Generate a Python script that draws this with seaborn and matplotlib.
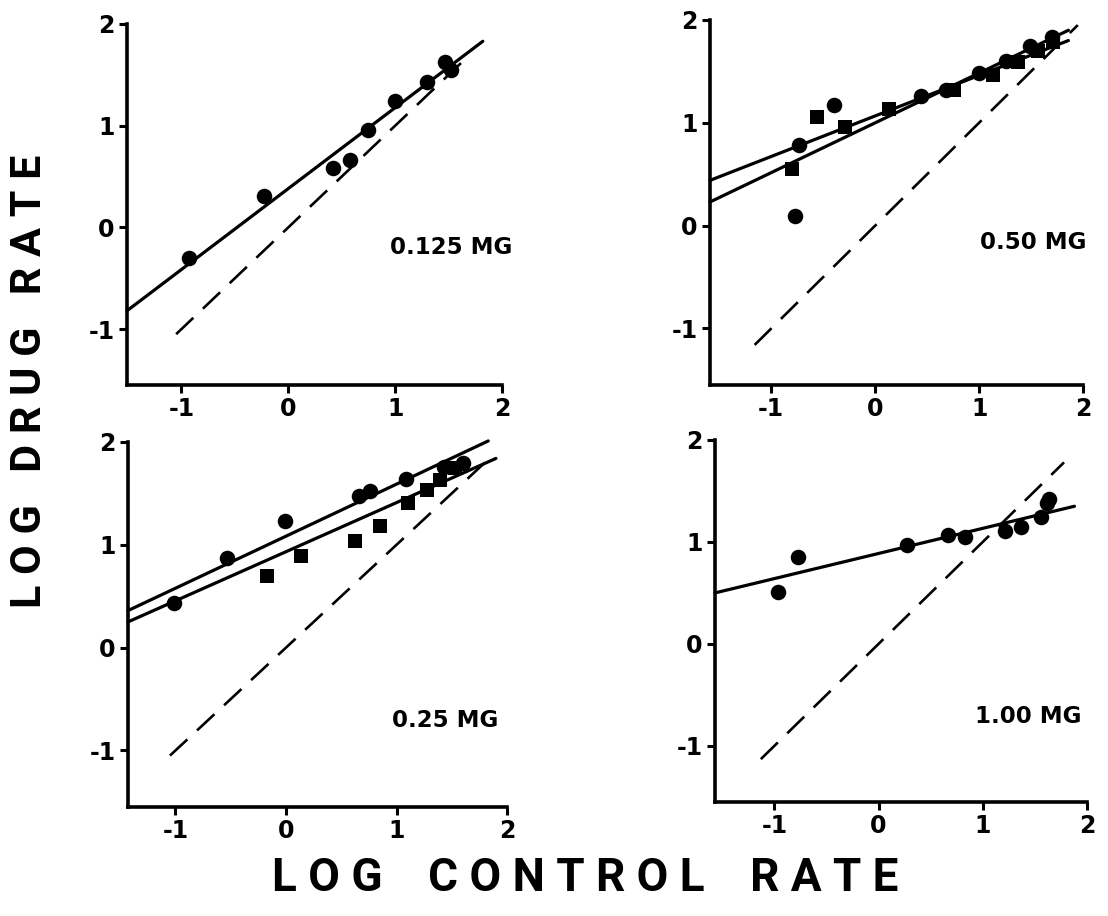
import numpy as np
import pandas as pd
import matplotlib
matplotlib.use("Agg")
import matplotlib.pyplot as plt
import seaborn as sns

# panel 0.125 MG
a_circ_x = [-0.93, -0.23, 0.42, 0.58, 0.75, 1.00, 1.30, 1.47, 1.52]
a_circ_y = [-0.30, 0.31, 0.58, 0.66, 0.96, 1.24, 1.43, 1.63, 1.55]
a_fit_x = [[-1.51, 1.82]]
a_fit_y = [[-0.82, 1.83]]
a_unity = [-1.05, 1.68]

# panel 0.50 MG
b_circ_x = [-0.73, -0.77, -0.40, 0.44, 0.68, 1.00, 1.26, 1.49, 1.70]
b_circ_y = [0.78, 0.09, 1.17, 1.26, 1.32, 1.48, 1.60, 1.75, 1.83]
b_sq_x = [-0.80, -0.56, -0.29, 0.13, 0.76, 1.13, 1.37, 1.57, 1.71]
b_sq_y = [0.55, 1.06, 0.96, 1.13, 1.32, 1.46, 1.59, 1.70, 1.79]
b_fit_x = [[-1.59, 1.86], [-1.59, 1.86]]
b_fit_y = [[0.44, 1.80], [0.23, 1.90]]
b_unity = [-1.16, 1.95]

# panel 0.25 MG
c_circ_x = [-1.01, -0.53, -0.01, 0.66, 0.76, 1.09, 1.43, 1.60]
c_circ_y = [0.43, 0.87, 1.23, 1.47, 1.52, 1.64, 1.76, 1.80]
c_sq_x = [-0.17, 0.14, 0.62, 0.85, 1.10, 1.28, 1.39, 1.53]
c_sq_y = [0.70, 0.89, 1.04, 1.18, 1.41, 1.53, 1.63, 1.75]
c_fit_x = [[-1.43, 1.83], [-1.43, 1.90]]
c_fit_y = [[0.36, 2.01], [0.25, 1.84]]
c_unity = [-1.05, 1.85]

# panel 1.00 MG
d_circ_x = [-0.97, -0.77, 0.27, 0.67, 0.83, 1.21, 1.37, 1.56, 1.62, 1.64]
d_circ_y = [0.51, 0.85, 0.97, 1.07, 1.05, 1.11, 1.15, 1.24, 1.38, 1.42]
d_fit_x = [[-1.57, 1.88]]
d_fit_y = [[0.50, 1.35]]
d_unity = [-1.13, 1.78]

ticks = [-1, 0, 1, 2]
tick_labels = ["-1", "0", "1", "2"]

sns.set_style("ticks")
plt.rcParams["font.family"] = ["DejaVu Sans"]
plt.rcParams["axes.unicode_minus"] = False
for k in ["text.color", "axes.edgecolor", "xtick.color", "ytick.color", "axes.labelcolor"]:
    plt.rcParams[k] = "black"

fig = plt.figure(figsize=(11.08, 9.16), dpi=100)

panels = [
    dict(pos=[0.1146, 0.5797, 0.3385, 0.3941], xmin=-1.51, label="0.125 MG", lab=(0.70, 0.38),
         cx=a_circ_x, cy=a_circ_y, sx=None, sy=None, fx=a_fit_x, fy=a_fit_y, u=a_unity),
    dict(pos=[0.6408, 0.5797, 0.3366, 0.3985], xmin=-1.59, label="0.50 MG", lab=(0.724, 0.389),
         cx=b_circ_x, cy=b_circ_y, sx=b_sq_x, sy=b_sq_y, fx=b_fit_x, fy=b_fit_y, u=b_unity),
    dict(pos=[0.1155, 0.1190, 0.3421, 0.3985], xmin=-1.43, label="0.25 MG", lab=(0.697, 0.238),
         cx=c_circ_x, cy=c_circ_y, sx=c_sq_x, sy=c_sq_y, fx=c_fit_x, fy=c_fit_y, u=c_unity),
    dict(pos=[0.6453, 0.1245, 0.3357, 0.3952], xmin=-1.57, label="1.00 MG", lab=(0.699, 0.235),
         cx=d_circ_x, cy=d_circ_y, sx=None, sy=None, fx=d_fit_x, fy=d_fit_y, u=d_unity),
]

for p in panels:
    ax = fig.add_axes(p["pos"])
    # unity line (dashed)
    sns.lineplot(x=p["u"], y=p["u"], ax=ax, color="black", lw=1.9, clip_on=False)
    ax.lines[-1].set_dashes((9, 5))
    for fx, fy in zip(p["fx"], p["fy"]):
        sns.lineplot(x=fx, y=fy, ax=ax, color="black", lw=2.3, clip_on=False)
    sns.scatterplot(x=p["cx"], y=p["cy"], ax=ax, color="black", marker="o",
                    s=125, linewidth=0, clip_on=False, zorder=3)
    if p["sx"] is not None:
        sns.scatterplot(x=p["sx"], y=p["sy"], ax=ax, color="black", marker="s",
                        s=100, linewidth=0, clip_on=False, zorder=3)
    ax.set_xlim(p["xmin"], 2)
    ax.set_ylim(-1.55, 2)
    ax.set_xticks(ticks)
    ax.set_xticklabels(tick_labels)
    ax.set_yticks(ticks)
    ax.set_yticklabels(tick_labels)
    sns.despine(ax=ax)
    for side in ["left", "bottom"]:
        ax.spines[side].set_linewidth(2.6)
    ax.tick_params(direction="out", length=6, width=2.2, labelsize=17, pad=3)
    for t in ax.get_xticklabels() + ax.get_yticklabels():
        t.set_fontweight("bold")
    ax.text(p["lab"][0], p["lab"][1], p["label"], transform=ax.transAxes,
            fontsize=16.5, fontweight="bold", va="center", ha="left")
    ax.set_xlabel("")
    ax.set_ylabel("")

label_font = ["Roboto", "DejaVu Sans"]
fig.text(0.027, 0.584, "L O G   D R U G   R A T E", rotation=90, ha="center", va="center",
         fontsize=31, fontweight="bold", family=label_font)
fig.text(0.528, 0.0415, "L O G    C O N T R O L    R A T E", ha="center", va="center",
         fontsize=33, fontweight="bold", family=label_font)

fig.savefig("out.png", dpi=100)
